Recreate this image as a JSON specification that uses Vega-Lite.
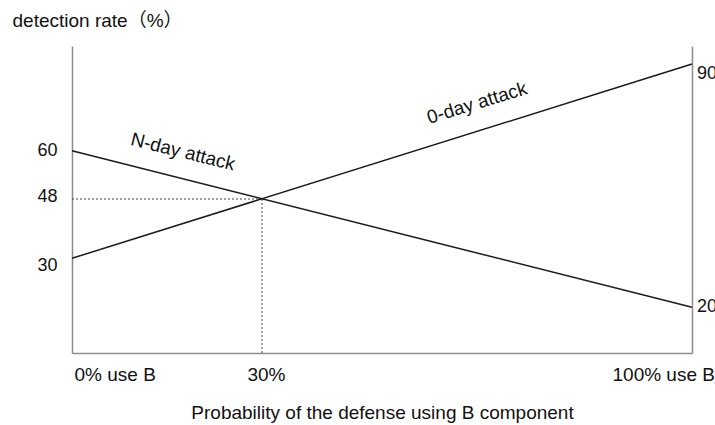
{
  "$schema": "https://vega.github.io/schema/vega-lite/v6.json",
  "width": 620,
  "height": 307,
  "autosize": {"type": "none"},
  "padding": {"left": 72, "top": 46, "right": 23, "bottom": 72},
  "background": "white",
  "config": {
    "view": {"stroke": null},
    "font": "Liberation Sans, Arial, Noto Sans CJK SC, sans-serif",
    "axis": {
      "grid": false,
      "ticks": false,
      "tickSize": 0,
      "domainColor": "#8c8c8c",
      "domainWidth": 1.5,
      "labelColor": "#111111",
      "titleColor": "#111111",
      "titleFontWeight": "normal",
      "labelFont": "Liberation Sans, Arial, sans-serif",
      "titleFont": "Liberation Sans, Arial, Noto Sans CJK SC, sans-serif"
    }
  },
  "datasets": {
    "lines": [
      {"series": "N-day attack", "usage": 0, "rate": 60},
      {"series": "N-day attack", "usage": 100, "rate": 20},
      {"series": "0-day attack", "usage": 0, "rate": 30},
      {"series": "0-day attack", "usage": 100, "rate": 90}
    ],
    "guides": [
      {"segment": "h", "usage": 0, "rate": 48},
      {"segment": "h", "usage": 30, "rate": 48},
      {"segment": "v", "usage": 30, "rate": 0},
      {"segment": "v", "usage": 30, "rate": 48}
    ],
    "labels": [
      {"series": "N-day attack", "usage": 17.5, "rate": 59.7},
      {"series": "0-day attack", "usage": 65, "rate": 76.5}
    ]
  },
  "encoding": {
    "x": {
      "field": "usage",
      "type": "quantitative",
      "scale": {"type": "linear", "domain": [0, 30, 100], "range": [0, 190, 620], "nice": false, "zero": false},
      "axis": {
        "values": [0, 30, 100],
        "labelExpr": "datum.value == 0 ? '0% use B' : datum.value == 30 ? '30%' : '100% use B'",
        "labelFontSize": 19,
        "labelBaseline": "alphabetic",
        "labelPadding": 27,
        "labelAlign": {"condition": {"test": "datum.value == 30", "value": "center"}, "value": "left"},
        "labelOffset": {"condition": [{"test": "datum.value == 100", "value": -80}, {"test": "datum.value == 30", "value": 4}], "value": 2},
        "labelFlush": false,
        "labelOverlap": false,
        "title": "Probability of the defense using B component",
        "titleFontSize": 19,
        "titleBaseline": "alphabetic",
        "titleY": 65,
        "titleX": 310,
        "titleAlign": "center"
      }
    }
  },
  "layer": [
    {
      "encoding": {
        "y": {
          "field": "rate",
          "type": "quantitative",
          "scale": {"type": "linear", "domain": [0, 20, 30, 48, 60, 90, 100], "range": [307, 261.3, 212.3, 153, 104.7, 18, 0], "nice": false, "zero": false},
          "axis": {
            "orient": "left",
            "values": [30, 48, 60],
            "labelFontSize": 18,
            "labelPadding": 15,
            "labelOffset": {"condition": [{"test": "datum.value == 48", "value": -3}, {"test": "datum.value == 30", "value": 7}], "value": 0},
            "labelOverlap": false,
            "labelFlush": false,
            "title": "detection rate（%）",
            "titleFontSize": 19,
            "titleAngle": 0,
            "titleAlign": "left",
            "titleBaseline": "alphabetic",
            "titleX": -60,
            "titleY": -19.5
          }
        }
      },
      "layer": [
        {
          "data": {"name": "guides"},
          "mark": {"type": "line", "stroke": "#444444", "strokeWidth": 1, "strokeDash": [2, 2]},
          "encoding": {"detail": {"field": "segment"}}
        },
        {
          "data": {"name": "labels"},
          "transform": [{"filter": "datum.series == 'N-day attack'"}],
          "mark": {"type": "text", "angle": 14, "fontSize": 19, "align": "center", "baseline": "middle", "color": "#111111", "font": "Liberation Sans, Arial, sans-serif"},
          "encoding": {"text": {"field": "series"}}
        },
        {
          "data": {"name": "labels"},
          "transform": [{"filter": "datum.series == '0-day attack'"}],
          "mark": {"type": "text", "angle": -17, "fontSize": 19, "align": "center", "baseline": "middle", "color": "#111111", "font": "Liberation Sans, Arial, sans-serif"},
          "encoding": {"text": {"field": "series"}}
        }
      ]
    },
    {
      "data": {"name": "lines"},
      "mark": {"type": "line", "stroke": "#1a1a1a", "strokeWidth": 1.5},
      "encoding": {
        "detail": {"field": "series"},
        "y": {
          "field": "rate",
          "type": "quantitative",
          "scale": {"type": "linear", "domain": [0, 20, 30, 48, 60, 90, 100], "range": [307, 261.3, 212.3, 153, 104.7, 18, 0], "nice": false, "zero": false},
          "axis": {
            "orient": "right",
            "values": [20, 90],
            "labelFontSize": 18,
            "labelPadding": 4.5,
            "labelOffset": {"condition": [{"test": "datum.value == 90", "value": 9}, {"test": "datum.value == 20", "value": -1}], "value": 0},
            "labelOverlap": false,
            "labelFlush": false,
            "title": null
          }
        }
      }
    }
  ],
  "resolve": {"scale": {"y": "independent"}, "axis": {"y": "independent"}}
}
